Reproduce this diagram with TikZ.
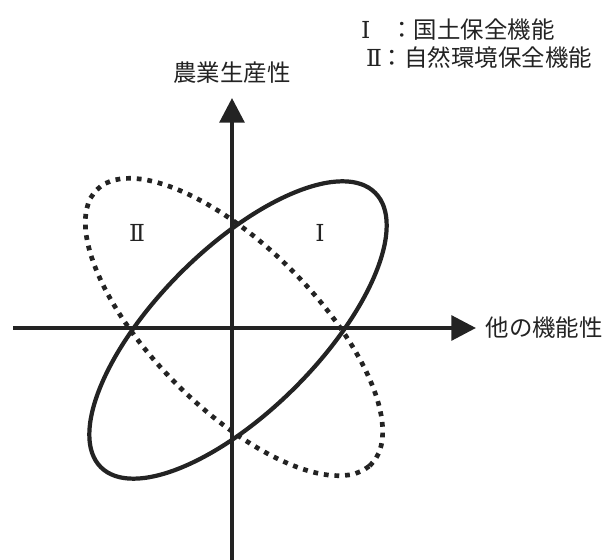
\documentclass[tikz,border=0pt]{standalone}
\usepackage{fontspec}
\usepackage{tikz}
\usetikzlibrary{arrows.meta,positioning}
\newfontfamily\jpfont{Noto Sans CJK JP}
\newfontfamily\numfont{DejaVu Serif}
\definecolor{inkgray}{RGB}{35,35,35}
\tikzset{
    axisline/.style={
        -{Triangle[length=21pt,width=21pt]},
        line width=3.4pt,
        draw=inkgray
    },
    solidellipse/.style={
        line width=3.6pt,
        draw=inkgray
    },
    dottedellipse/.style={
        line width=4pt,
        draw=inkgray,
        line cap=rect,
        dash pattern=on 0.1pt off 9pt
    },
    label/.style={
        font=\jpfont\fontsize{20}{24}\selectfont,
        text=inkgray,
        inner sep=0pt
    }
}

\begin{document}
\begin{tikzpicture}[x=0.03cm,y=0.03cm]
\useasboundingbox (0,0) rectangle (615,560);

% axes
\coordinate (ybot) at (232,0);
\coordinate (ytop) at (232,462);
\coordinate (xleft) at (13,232);
\coordinate (xright) at (476,232);
\draw[axisline] (ybot) -- (ytop);
\draw[axisline] (xleft) -- (xright);

% axis labels
\node[label, above=12pt of ytop] (ylabel) {農業生産性};
\node[label, right=8pt of xright] (xlabel) {他の機能性};

% I: solid, II: dotted
\draw[solidellipse] (238,230) ellipse [x radius=194, y radius=81, rotate=45];
\draw[dottedellipse] (234,233) ellipse [x radius=194, y radius=81, rotate=-45];

\node[label] (one) at (320,327) {\numfont Ⅰ};
\node[label] (two) at (137,327) {\numfont Ⅱ};

% legend
\node[label, anchor=west] (legone) at (361,530) {{\numfont Ⅰ}\hspace{17pt}：国土保全機能};
\node[label, anchor=west] (legtwo) at (366,502) {{\numfont Ⅱ}\hspace{-1pt}：自然環境保全機能};
\end{tikzpicture}
\end{document}
